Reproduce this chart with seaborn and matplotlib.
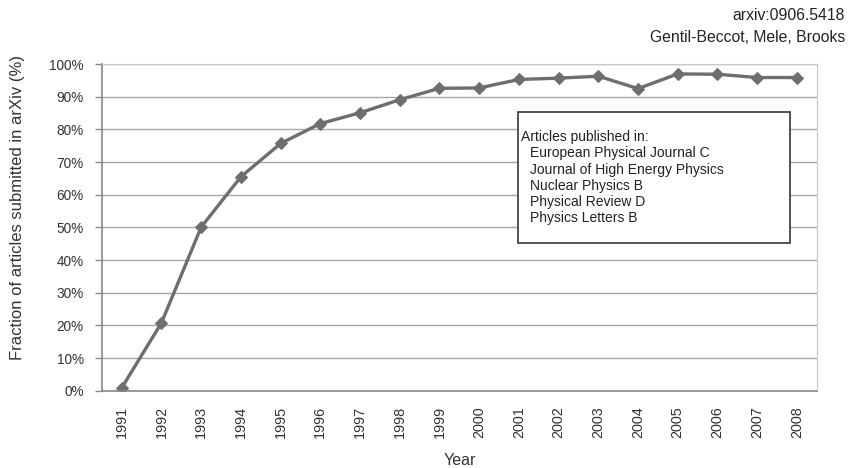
import numpy as np
import pandas as pd
import matplotlib
matplotlib.use("Agg")
import matplotlib.pyplot as plt
from matplotlib.patches import Rectangle
from matplotlib.ticker import FixedLocator, PercentFormatter
import seaborn as sns

anos = ["1991", "1992", "1993", "1994", "1995", "1996", "1997", "1998", "1999",
        "2000", "2001", "2002", "2003", "2004", "2005", "2006", "2007", "2008"]
fracao = [0.9, 20.8, 50.1, 65.5, 75.7, 81.8, 85.1, 89.1, 92.6,
          92.7, 95.3, 95.7, 96.3, 92.5, 97.0, 96.9, 95.9, 95.9]
revistas = ["European Physical Journal C", "Journal of High Energy Physics",
            "Nuclear Physics B", "Physical Review D", "Physics Letters B"]

df = pd.DataFrame({"Ano": anos, "Fracao": fracao})

sns.set_style("white")
plt.rcParams["font.family"] = ["Liberation Sans", "DejaVu Sans"]

fig = plt.figure(figsize=(8.49, 4.68), dpi=100)
ax = fig.add_axes([0.120, 0.165, 0.842, 0.698])

cinza = "#6e6e6e"
sns.lineplot(data=df, x="Ano", y="Fracao", ax=ax, color=cinza, linewidth=2.4,
             marker="D", markersize=6, markeredgecolor=cinza, sort=False)

ax.set_xlim(-0.5, len(anos) - 0.5)
ax.set_ylim(0, 100)
ax.set_yticks(np.arange(0, 101, 10))
ax.yaxis.set_major_formatter(PercentFormatter(decimals=0))
ax.grid(axis="y", color="#a8a8a8", linewidth=1)
ax.set_axisbelow(True)

# marcas entre categorias, estilo Excel
ax.set_xticks(range(len(anos)))
ax.set_xticklabels(anos, rotation=90)
ax.xaxis.set_minor_locator(FixedLocator(np.arange(-0.5, len(anos), 1)))
ax.tick_params(axis="x", which="major", length=0, pad=11, labelsize=10.4, labelcolor="#333333")
ax.tick_params(axis="x", which="minor", length=5, width=1, color="#888888", direction="out")
ax.tick_params(axis="y", length=5, width=1, color="#888888", direction="out", pad=8,
               labelsize=9.8, labelcolor="#333333", left=True)

for lado in ["top", "right"]:
    ax.spines[lado].set_color("#c8c8c8")
for lado in ["left", "bottom"]:
    ax.spines[lado].set_color("#888888")
    ax.spines[lado].set_linewidth(1.2)

ax.set_xlabel("Year", fontsize=11.5, color="#333333")
ax.set_ylabel("Fraction of articles submitted in arXiv (%)", fontsize=12, color="#333333")
ax.xaxis.set_label_coords(0.5, -0.19)
ax.yaxis.set_label_coords(-0.107, 0.56)

# caixa de texto com as revistas
fig.add_artist(Rectangle((0.610, 0.481), 0.320, 0.280, transform=fig.transFigure,
                         facecolor="white", edgecolor="#444444", linewidth=1.3))
fig.text(0.614, 1 - 137 / 468, "Articles published in:", fontsize=10, color="#222222",
         va="center", ha="left")
for i, r in enumerate(revistas):
    fig.text(0.624, 1 - (153.5 + 16.2 * i) / 468, r, fontsize=10, color="#222222",
             va="center", ha="left")

fig.text(0.995, 1 - 15 / 468, "arxiv:0906.5418", fontsize=11.3, ha="right", va="center",
         color="#222222")
fig.text(0.995, 1 - 37 / 468, "Gentil-Beccot, Mele, Brooks", fontsize=11.3, ha="right",
         va="center", color="#222222")

fig.savefig("out.png", dpi=100)
